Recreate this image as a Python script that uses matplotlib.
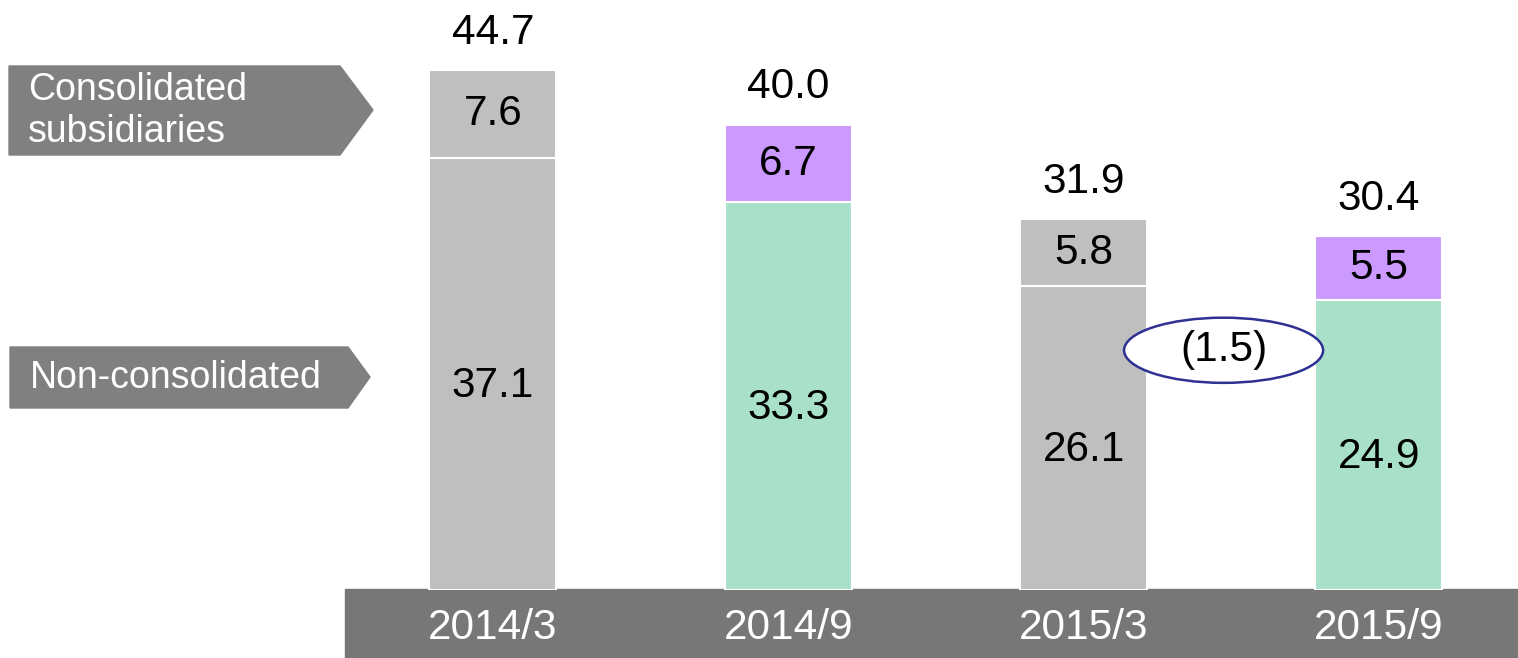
import numpy as np
import matplotlib.pyplot as plt
from matplotlib.patches import Polygon, Ellipse, Rectangle

plt.rcParams['font.family'] = ['Liberation Sans', 'DejaVu Sans']

# data
periods = ['2014/3', '2014/9', '2015/3', '2015/9']
non_consolidated = [37.1, 33.3, 26.1, 24.9]
subsidiaries = [7.6, 6.7, 5.8, 5.5]
totals = [44.7, 40.0, 31.9, 30.4]
bottom_colors = ['#bfbfbf', '#a9e0c9', '#bfbfbf', '#a9e0c9']
top_colors = ['#bfbfbf', '#cc99ff', '#bfbfbf', '#cc99ff']
change_label = '(1.5)'

W, H = 1518, 658
fig = plt.figure(figsize=(W / 100, H / 100), dpi=100)

# main bar axes
ax = fig.add_axes([345 / W, 1 - 590 / H, 1 - 345 / W, 590 / H])
x = np.arange(len(periods))
bw = 0.43
ax.bar(x, non_consolidated, bw, color=bottom_colors, edgecolor='white', linewidth=1.5)
ax.bar(x, subsidiaries, bw, bottom=non_consolidated, color=top_colors,
       edgecolor='white', linewidth=1.5)
ax.set_xlim(-0.501, 3.471)
ax.set_ylim(0, 50.7)
ax.axis('off')

fs = 30.5
for i in range(len(periods)):
    ax.text(x[i], non_consolidated[i] / 2 - 1.0, f'{non_consolidated[i]:.1f}',
            ha='center', va='center', fontsize=fs)
    ax.text(x[i], non_consolidated[i] + subsidiaries[i] / 2, f'{subsidiaries[i]:.1f}',
            ha='center', va='center', fontsize=fs)
    ax.text(x[i], totals[i] + 3.2, f'{totals[i]:.1f}',
            ha='center', va='center', fontsize=fs)

# change bubble between last two bars
ax.add_patch(Ellipse((2.474, 20.6), 0.674, 5.6, facecolor='white',
                     edgecolor='#2e3192', linewidth=1.8, zorder=5))
ax.text(2.474, 20.6, change_label, ha='center', va='center', fontsize=fs, zorder=6)

# overlay in pixel coordinates for band and side labels
ov = fig.add_axes([0, 0, 1, 1], zorder=-1)
ov.set_xlim(0, W)
ov.set_ylim(H, 0)
ov.axis('off')

ov.add_patch(Rectangle((345, 589), W - 345, H - 589, color='#777777'))
for i, p in enumerate(periods):
    ov.text(493 + i * 295.3, 628, p, color='white', ha='center', va='center', fontsize=30.5)

ov.add_patch(Polygon([[9, 66], [340, 66], [373, 110], [340, 155], [9, 155]],
                     closed=True, color='#808080'))
ov.text(28, 111, 'Consolidated\nsubsidiaries', color='white', ha='left', va='center',
        fontsize=27, linespacing=1.22)
ov.add_patch(Polygon([[10, 347], [348, 347], [370, 377], [348, 408], [10, 408]],
                     closed=True, color='#808080'))
ov.text(30, 378, 'Non-consolidated', color='white', ha='left', va='center', fontsize=27)

plt.savefig('out.png', dpi=100)
